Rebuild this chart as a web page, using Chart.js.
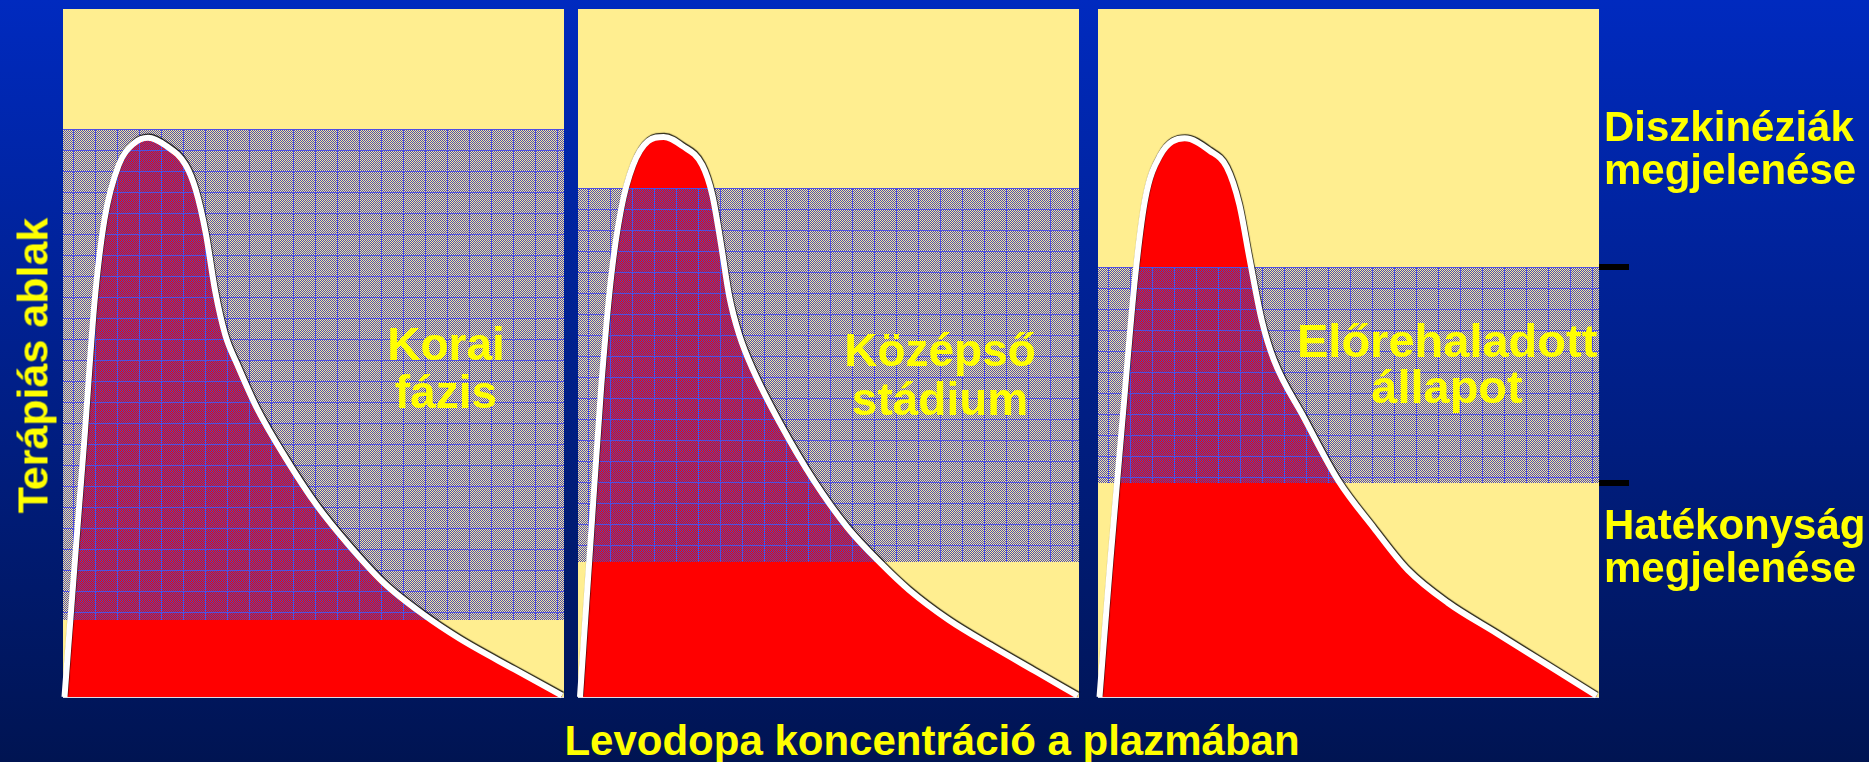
<!DOCTYPE html>
<html>
<head>
<meta charset="utf-8">
<script src="https://cdn.jsdelivr.net/npm/chart.js@4.4.0/dist/chart.umd.min.js"></script>
<style>
html,body{margin:0;padding:0;}
body{width:1869px;height:762px;overflow:hidden;position:relative;
  background:linear-gradient(to bottom,#002ABF 0%,#001452 100%);
  font-family:"Liberation Sans",Arial,sans-serif;font-weight:bold;color:#FFFF00;}
canvas{position:absolute;}
.t{position:absolute;white-space:nowrap;}
</style>
</head>
<body>
<canvas id="c1" width="517" height="704" style="left:55px;top:1px"></canvas>
<canvas id="c2" width="517" height="704" style="left:570px;top:1px"></canvas>
<canvas id="c3" width="557" height="704" style="left:1090px;top:1px"></canvas>
<div id="texts"></div>
<script>
// ---------------- DATA ----------------
// x: relative time/concentration axis (0-100), y: relative level (0-100)
const koraiX = [0.3, 2.4, 4.3, 6.3, 8.3, 11.1, 14.2, 17.0, 20.6, 24.5, 26.5, 28.5, 30.4, 32.4, 34.8, 38.7, 44.3, 50.6, 56.9, 64.0, 71.9, 79.1, 90.1, 99.6];
const koraiY = [0, 20.1, 37.8, 57.5, 69.5, 77.3, 80.5, 81.3, 80.1, 77.3, 73.7, 67.4, 58.9, 52.6, 48.3, 42.0, 34.9, 27.9, 22.2, 16.6, 12.0, 8.5, 4.0, 0.2];

const kozepsoX = [0.4, 2.6, 4.6, 6.6, 8.6, 11.0, 14.0, 17.1, 20.8, 24.8, 26.8, 28.5, 30.2, 32.2, 34.9, 40.3, 47.1, 53.8, 60.6, 66.0, 74.0, 82.8, 91.6, 99.7];
const kozepsoY = [0, 23.6, 44.8, 61.0, 70.9, 77.3, 80.8, 81.4, 80.1, 77.3, 73.0, 66.0, 58.2, 52.6, 47.6, 39.8, 31.4, 24.6, 19.3, 15.6, 11.2, 7.3, 3.6, 0.2];

const eloreX = [0.3, 2.5, 5.0, 7.4, 9.4, 12.4, 17.3, 22.3, 25.7, 28.2, 30.2, 32.7, 35.1, 41.1, 48.0, 55.0, 61.9, 69.8, 79.7, 89.6, 99.5];
const eloreY = [0, 20.1, 41.3, 61.0, 72.3, 78.7, 81.2, 79.4, 77.0, 71.6, 63.9, 54.7, 49.0, 40.6, 31.4, 24.6, 18.4, 13.7, 9.2, 4.7, 0.2];

// therapeutic window band [lower, upper] per stage
const koraiBand   = [11.2, 82.6];
const kozepsoBand = [19.6, 74.0];
const eloreBand   = [31.1, 62.5];

const stageLabels = [['Korai', 'fázis'], ['Középső', 'stádium'], ['Előrehaladott', 'állapot']];
const sideLabels  = [['Diszkinéziák', 'megjelenése'], ['Hatékonyság', 'megjelenése']];
const yAxisTitle  = 'Terápiás ablak';
const xAxisTitle  = 'Levodopa koncentráció a plazmában';

// ---------------- STYLE ----------------
const YELLOW = '#FFEE90';
const RED = '#FF0000';

function makePattern(ctx) {
  const w = 22, h = 21;
  const c = document.createElement('canvas');
  c.width = w; c.height = h;
  const g = c.getContext('2d');
  const img = g.createImageData(w, h);
  for (let y = 0; y < h; y++) {
    for (let x = 0; x < w; x++) {
      const i = (y * w + x) * 4;
      if (x === 0 || y === 0) {
        img.data[i] = 80; img.data[i+1] = 80; img.data[i+2] = 225; img.data[i+3] = 255;
      } else if ((x + y) % 2 === 0) {
        img.data[i] = 72; img.data[i+1] = 72; img.data[i+2] = 190; img.data[i+3] = 255;
      } else {
        img.data[i+3] = 0;
      }
    }
  }
  g.putImageData(img, 0, 0);
  return ctx.createPattern(c, 'repeat');
}

const panelPlugin = {
  id: 'panel',
  beforeDraw(chart) {
    const {ctx, chartArea: a} = chart;
    ctx.save();
    ctx.fillStyle = YELLOW;
    ctx.fillRect(a.left, a.top, a.right - a.left, a.bottom - a.top);
    ctx.restore();
  },
  beforeDatasetDraw(chart, args) {
    if (args.index === 0) {
      const ctx = chart.ctx;
      ctx.save();
      ctx.shadowColor = 'rgba(0,0,0,0.85)';
      ctx.shadowOffsetX = 0.6;
      ctx.shadowOffsetY = -1.2;
      ctx.shadowBlur = 1;
    }
  },
  afterDatasetDraw(chart, args, opts) {
    const ctx = chart.ctx;
    if (args.index === 0) { ctx.restore(); return; }
    if (args.index === 1) {
      const a = chart.chartArea, ys = chart.scales.y;
      const top = Math.round(ys.getPixelForValue(opts.band[1]));
      const bot = Math.round(ys.getPixelForValue(opts.band[0]));
      const pat = makePattern(ctx);
      pat.setTransform(new DOMMatrix([1, 0, 0, 1, Math.round(a.left) + 10, top]));
      ctx.save();
      ctx.fillStyle = pat;
      ctx.fillRect(a.left, top, a.right - a.left, bot - top);
      ctx.restore();
    }
  },
  afterDatasetsDraw(chart, args, opts) {
    const {ctx, chartArea: a} = chart;
    ctx.save();
    ctx.strokeStyle = 'rgba(255,255,255,0.85)';
    ctx.lineWidth = 1;
    ctx.beginPath();
    ctx.moveTo(a.left, a.bottom + 0.5);
    ctx.lineTo(a.right, a.bottom + 0.5);
    ctx.stroke();
    if (opts.ticks) {
      const ys = chart.scales.y;
      ctx.fillStyle = '#000000';
      opts.band.forEach(v => {
        const y = ys.getPixelForValue(v);
        ctx.fillRect(a.right, Math.round(y) - 3, 30, 6);
      });
    }
    ctx.restore();
  }
};

function makeChart(id, xs, ys, band, ticks) {
  const pts = xs.map((x, i) => ({x, y: ys[i]}));
  return new Chart(document.getElementById(id), {
    type: 'line',
    data: {
      datasets: [
        { data: pts, borderColor: '#FFFFFF', borderWidth: 6, fill: false, pointRadius: 0,
          cubicInterpolationMode: 'monotone', clip: false },
        { data: pts, borderWidth: 0, borderColor: 'rgba(0,0,0,0)', backgroundColor: RED, fill: 'origin',
          pointRadius: 0, cubicInterpolationMode: 'monotone' }
      ]
    },
    options: {
      responsive: false,
      animation: false,
      devicePixelRatio: 1,
      layout: { padding: { left: 8, top: 8, bottom: 8, right: ticks ? 48 : 8 } },
      scales: {
        x: { type: 'linear', min: 0, max: 100, display: false },
        y: { type: 'linear', min: 0, max: 100, display: false }
      },
      plugins: {
        legend: { display: false },
        tooltip: { enabled: false },
        panel: { band, ticks }
      },
      events: []
    },
    plugins: [panelPlugin]
  });
}

makeChart('c1', koraiX, koraiY, koraiBand, false);
makeChart('c2', kozepsoX, kozepsoY, kozepsoBand, false);
makeChart('c3', eloreX, eloreY, eloreBand, true);

// ---------------- TEXT ----------------
const T = document.getElementById('texts');
function addText(lines, css) {
  const d = document.createElement('div');
  d.className = 't';
  d.innerHTML = lines.join('<br>');
  Object.assign(d.style, css);
  T.appendChild(d);
  return d;
}
addText(stageLabels[0], {left: '296px', top: '320px', width: '300px', textAlign: 'center', fontSize: '46px', lineHeight: '48px'});
addText(stageLabels[1], {left: '790px', top: '326px', width: '300px', textAlign: 'center', fontSize: '46px', lineHeight: '49px'});
addText(stageLabels[2], {left: '1297px', top: '318px', width: '300px', textAlign: 'center', fontSize: '47px', lineHeight: '46px'});
addText(sideLabels[0], {left: '1604px', top: '105px', fontSize: '42px', lineHeight: '43px'});
addText(sideLabels[1], {left: '1604px', top: '503px', fontSize: '42px', lineHeight: '43px'});
addText([yAxisTitle], {left: '-167px', top: '344px', width: '400px', height: '43px', textAlign: 'center', fontSize: '43px', lineHeight: '43px', transform: 'rotate(-90deg)'});
addText([xAxisTitle], {left: '532px', top: '720px', width: '800px', textAlign: 'center', fontSize: '42px', lineHeight: '42px'});
</script>
</body>
</html>
